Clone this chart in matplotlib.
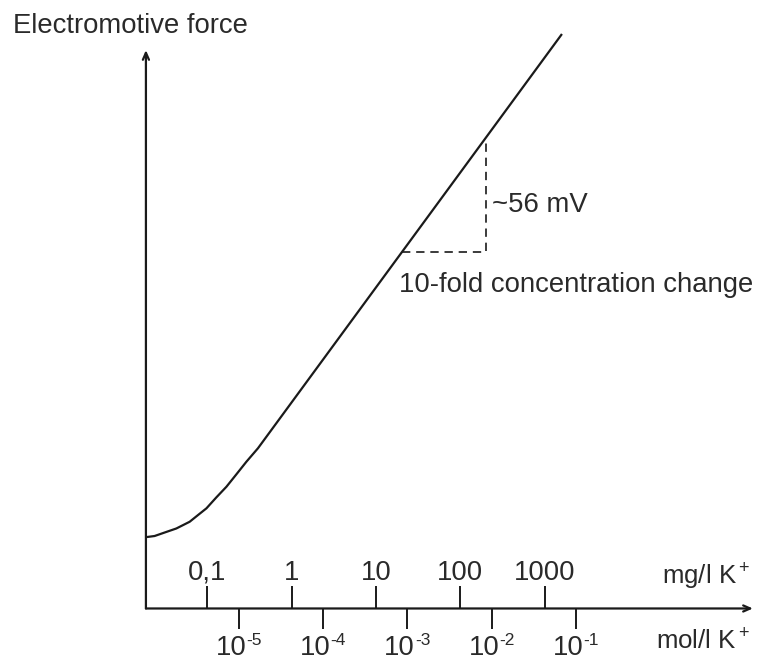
import matplotlib
matplotlib.use("Agg")
import matplotlib.pyplot as plt
import numpy as np

plt.rcParams['font.family'] = ['Liberation Sans', 'DejaVu Sans']
plt.rcParams['mathtext.fontset'] = 'custom'
plt.rcParams['mathtext.rm'] = 'Liberation Sans'
plt.rcParams['mathtext.it'] = 'Liberation Sans'

# electrode response: x = log10(mg/l K+), y = EMF (mV, arbitrary zero)
curve_log = [-1.718, -1.627, -1.488, -1.369, -1.211, -1.112, -1.012, -0.894,
             -0.775, -0.657, -0.538, -0.401, 3.205]
curve_emf = [35.1, 35.6, 37.6, 39.3, 42.6, 45.9, 49.2, 54.6,
             59.8, 65.9, 72.1, 78.7, 282.2]

# slope triangle (one decade, ~56 mV)
tri_log = [1.31, 2.31, 2.31]
tri_emf = [175.0, 175.0, 231.0]

mg_ticks = [0.1, 1, 10, 100, 1000]
mg_labels = ['0,1', '1', '10', '100', '1000']
mol_exp = [-5, -4, -3, -2, -1]
mol_offset = 4.37  # where the mol/l scale sits against the mg/l scale in the sketch

ink = '#1a1a1a'
txt = '#2a2a2a'
fs = 19.8
fs_sup = 12.5

fig = plt.figure(figsize=(7.7, 6.61), dpi=100)
ax = fig.add_axes([0, 0, 1, 1])
ax.set_xlim(-3.461, 5.673)
ax.set_ylim(-25.8, 298.9)
ax.axis('off')

x0, x1 = -1.730, 5.47
y0, y1 = 0.0, 274.3

# axes with open arrow heads
arrow = dict(arrowstyle='->,head_length=0.5,head_width=0.22', color=ink, lw=1.6,
             shrinkA=0, shrinkB=0)
ax.annotate('', xy=(x1, y0), xytext=(x0, y0), arrowprops=arrow)
ax.annotate('', xy=(x0, y1), xytext=(x0, y0), arrowprops=arrow)

ax.plot(curve_log, curve_emf, color=ink, lw=1.6, solid_capstyle='butt')
ax.plot(tri_log, tri_emf, color=ink, lw=1.2, ls=(0, (5, 3.5)))

# upper scale: mg/l
mg_pos = np.log10(mg_ticks)
ax.vlines(mg_pos, 0, 11, color=ink, lw=1.4)
for p, lab in zip(mg_pos, mg_labels):
    ax.text(p, 17.5, lab, ha='center', va='center', fontsize=fs, color=txt)

# lower scale: mol/l, "10" with a small raised exponent
mol_pos = np.array(mol_exp) + mol_offset
ax.vlines(mol_pos, -10, 0, color=ink, lw=1.4)
for p, e in zip(mol_pos, mol_exp):
    ax.annotate('10', (p, -19.4), xytext=(5.5, 0), textcoords='offset points',
                ha='right', va='center', fontsize=fs, color=txt)
    ax.annotate('%d' % e, (p, -19.4), xytext=(5.5, 5.5), textcoords='offset points',
                ha='left', va='center', fontsize=fs_sup, color=txt)

ax.text(5.44, 15.5, r'mg/l K$^+$', ha='right', va='center', fontsize=18.6, color=txt)
ax.text(5.44, -16.5, r'mol/l K$^+$', ha='right', va='center', fontsize=18.6, color=txt)

ax.text(-3.307, 286.1, 'Electromotive force', ha='left', va='center', fontsize=fs, color=txt)
ax.text(2.375, 198.2, '~56 mV', ha='left', va='center', fontsize=fs, color=txt)
ax.text(1.275, 158.9, '10-fold concentration change', ha='left', va='center',
        fontsize=fs, color=txt)

fig.savefig('out.png', dpi=100, facecolor='white')
